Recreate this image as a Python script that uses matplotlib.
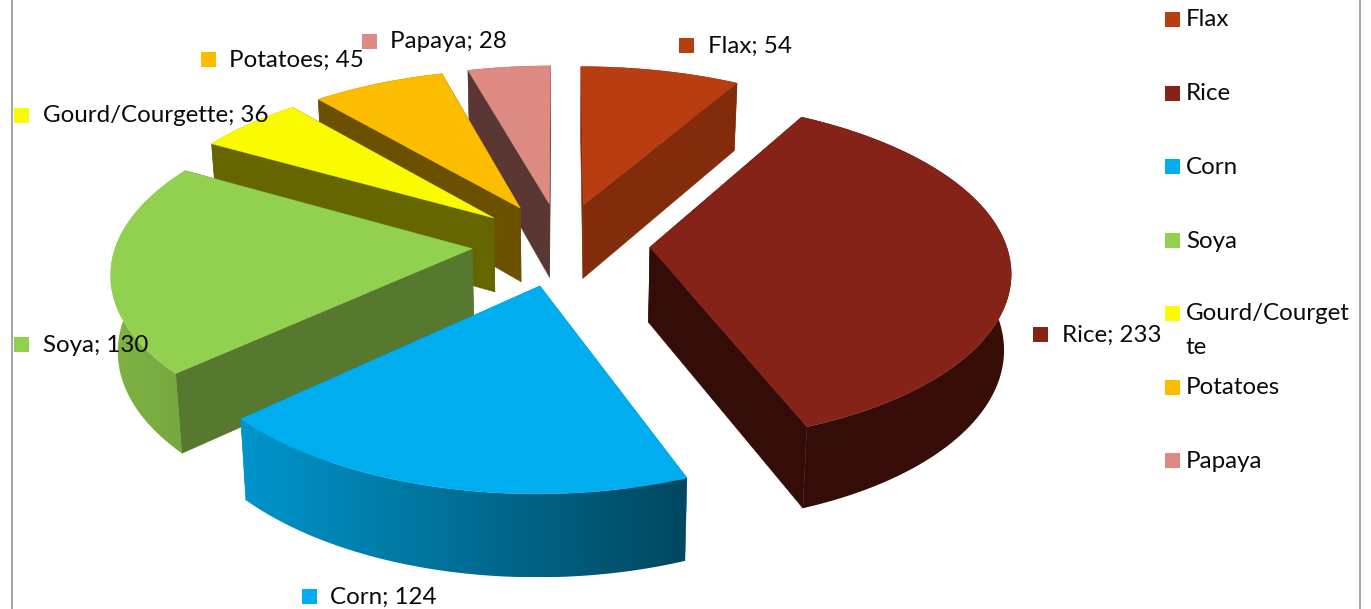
import numpy as np
import matplotlib
matplotlib.use('Agg')
import matplotlib.pyplot as plt
from matplotlib.patches import Polygon, Rectangle
from matplotlib.colors import to_rgb

plt.rcParams['font.family'] = ['Lato', 'DejaVu Sans']

crops = ['Flax', 'Rice', 'Corn', 'Soya', 'Gourd/Courgette', 'Potatoes', 'Papaya']
values = [54, 233, 124, 130, 36, 45, 28]

top_colors = ['#b83d10', '#862318', '#00aeef', '#92d050', '#fbfb00', '#fcbd00', '#dd8b82']
side_colors = ['#832c0c', '#350d08', '#0088bb', '#56782f', '#666600', '#6b5000', '#5a3733']
# outer wall shading, from left to right of the slice
wall_left = ['#832c0c', '#350d08', '#0095cc', '#7fb345', '#666600', '#6b5000', '#5a3733']
wall_right = ['#832c0c', '#380e09', '#00475f', '#74a63e', '#666600', '#6b5000', '#5a3733']

# perspective of the tilted pie, in pixels
cx, cy = 561, 244
rx, ry = 356, 167
kx, ky = 0.125, 0.136
explode = 0.25
depth = 75


def project(X, Y, down=0):
    X, Y = np.asarray(X, float), np.asarray(Y, float)
    sx = cx + rx * X / (1 + kx * Y) * (1 - 0.016 * down)
    sy = cy - ry * Y / (1 + ky * Y) + down * depth * (1 - 0.09 * Y)
    return np.column_stack([sx, sy])


fig = plt.figure(figsize=(13.71, 6.09), dpi=100)
ax = fig.add_axes([0, 0, 1, 1])
ax.axis('off')

# clockwise from 12 o'clock
edges = 90 - np.cumsum([0] + values) / sum(values) * 360

# back slices first, front ones go over them
order = [0, 6, 5, 4, 3, 1, 2]
z = 1
for i in order:
    a = np.radians(np.linspace(edges[i], edges[i + 1], 120))
    mid = (a[0] + a[-1]) / 2
    ox, oy = explode * np.cos(mid), explode * np.sin(mid)
    X = ox + np.cos(a)
    Y = oy + np.sin(a)

    top_arc = project(X, Y)
    bot_arc = project(X, Y, 1)
    apex_t = project([ox], [oy])
    apex_b = project([ox], [oy], 1)

    # radial walls
    for j in (0, -1):
        pts = np.vstack([apex_t, top_arc[j], bot_arc[j], apex_b])
        ax.add_patch(Polygon(pts, fc=side_colors[i], ec=side_colors[i], lw=0.4, zorder=z))
    z += 1

    # outer wall, a horizontal gradient clipped to the wall shape
    wall = Polygon(np.vstack([top_arc, bot_arc[::-1]]), fc='none', ec='none', zorder=z)
    ax.add_patch(wall)
    x0, x1 = min(top_arc[:, 0].min(), bot_arc[:, 0].min()), max(top_arc[:, 0].max(), bot_arc[:, 0].max())
    y0, y1 = min(top_arc[:, 1].min(), bot_arc[:, 1].min()), max(top_arc[:, 1].max(), bot_arc[:, 1].max())
    t = np.linspace(0, 1, 256)[None, :, None]
    grad = np.array(to_rgb(wall_left[i]))[None, None, :] * (1 - t) + np.array(to_rgb(wall_right[i]))[None, None, :] * t
    im = ax.imshow(grad, extent=(x0, x1, y1, y0), aspect='auto', zorder=z, interpolation='bilinear')
    im.set_clip_path(wall)
    z += 1

    # top face
    ax.add_patch(Polygon(np.vstack([apex_t, top_arc]), fc=top_colors[i], ec=top_colors[i], lw=0.3, zorder=z))
    z += 1

# data labels: marker left edge, marker centre y, text x
label_pos = [(679, 45, 708), (1033, 334, 1062), (302, 596, 330), (14, 344, 43),
             (14, 115, 43), (201, 59, 229), (362, 41, 390)]
fs = 17.4
for name, v, col, (mx, my, tx) in zip(crops, values, top_colors, label_pos):
    ax.add_patch(Rectangle((mx, my - 7.5), 15, 15, fc=col, ec='none', zorder=200))
    ax.text(tx, my + 1, '%s; %d' % (name, v), fontsize=fs, va='center', ha='left', color='#0a0a0a', zorder=201)

# legend, the long name wraps like in the original
legend_y = [19, 93, 166, 240, 313, 387, 460]
legend_names = ['Flax', 'Rice', 'Corn', 'Soya', 'Gourd/Courget', 'Potatoes', 'Papaya']
for name, col, y in zip(legend_names, top_colors, legend_y):
    ax.add_patch(Rectangle((1165, y - 7.5), 15, 15, fc=col, ec='none', zorder=200))
    ax.text(1186, y + 1, name, fontsize=fs, va='center', ha='left', color='#0a0a0a', zorder=201)
ax.text(1186, 347, 'te', fontsize=fs, va='center', ha='left', color='#0a0a0a', zorder=201)

# chart border, only the sides show
for x in (12, 1360):
    ax.plot([x, x], [0, 609], color='#aaa7aa', lw=1.5, zorder=0, solid_capstyle='butt')

ax.set_xlim(0, 1371)
ax.set_ylim(609, 0)

fig.savefig('out.png', dpi=100)
